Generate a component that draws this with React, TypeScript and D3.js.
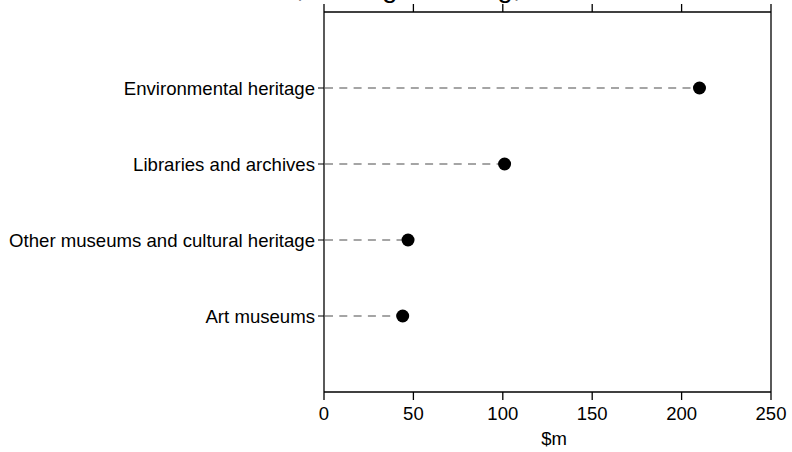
import React from "react";
import * as d3 from "d3";

const categories = [
  "Environmental heritage",
  "Libraries and archives",
  "Other museums and cultural heritage",
  "Art museums",
];
const values = [210, 101, 47, 44];
const xTicks = [0, 50, 100, 150, 200, 250];
const title = "Commonwealth, heritage funding, 2021–22";
const xLabel = "$m";

const W = 792;
const H = 452;
const left = 324;
const right = 771;
const top = 12;
const bottom = 392;
const font = "'Liberation Sans', Arial, sans-serif";

export default function App() {
  const x = d3.scaleLinear().domain([0, 250]).range([left, right]);
  const y = d3.scalePoint<string>().domain(categories).range([top, bottom]).padding(1);
  return (
    <svg
      width={W}
      height={H}
      style={{ position: "absolute", left: 0, top: 0, background: "#fff" }}
      fontFamily={font}
    >
      <rect x={0} y={0} width={W} height={H} fill="#fff" />
      <text x={102} y={-3} fontSize={28} textAnchor="start" fill="#000">
        {title}
      </text>
      {/* frame */}
      <line x1={left} x2={right} y1={top} y2={top} stroke="#000" strokeWidth={1.3} />
      <line x1={left} x2={right} y1={bottom} y2={bottom} stroke="#000" strokeWidth={1.3} />
      <line x1={left} x2={left} y1={top} y2={bottom} stroke="#000" strokeWidth={1.3} />
      <line x1={right} x2={right} y1={top} y2={bottom} stroke="#000" strokeWidth={1.3} />
      {xTicks.map((t) => (
        <g key={t}>
          <line x1={x(t)} x2={x(t)} y1={top} y2={top - 8} stroke="#000" strokeWidth={1.3} />
          <line x1={x(t)} x2={x(t)} y1={bottom} y2={bottom + 8} stroke="#000" strokeWidth={1.3} />
          <text x={x(t)} y={420} fontSize={18.5} textAnchor="middle" fill="#000">
            {t}
          </text>
        </g>
      ))}
      <text x={554} y={445} fontSize={18.5} textAnchor="middle" fill="#000">
        {xLabel}
      </text>
      {categories.map((c, i) => {
        const yy = y(c) as number;
        return (
          <g key={c}>
            <line x1={left - 6} x2={left} y1={yy} y2={yy} stroke="#000" strokeWidth={1} />
            <line
              x1={left + 1}
              x2={x(values[i])}
              y1={yy}
              y2={yy}
              stroke="#888"
              strokeWidth={1.4}
              strokeDasharray="8,6.3"
            />
            <circle cx={x(values[i])} cy={yy} r={6.5} fill="#000" />
            <text x={left - 9} y={yy} dy="0.35em" fontSize={18.6} textAnchor="end" fill="#000">
              {c}
            </text>
          </g>
        );
      })}
    </svg>
  );
}
